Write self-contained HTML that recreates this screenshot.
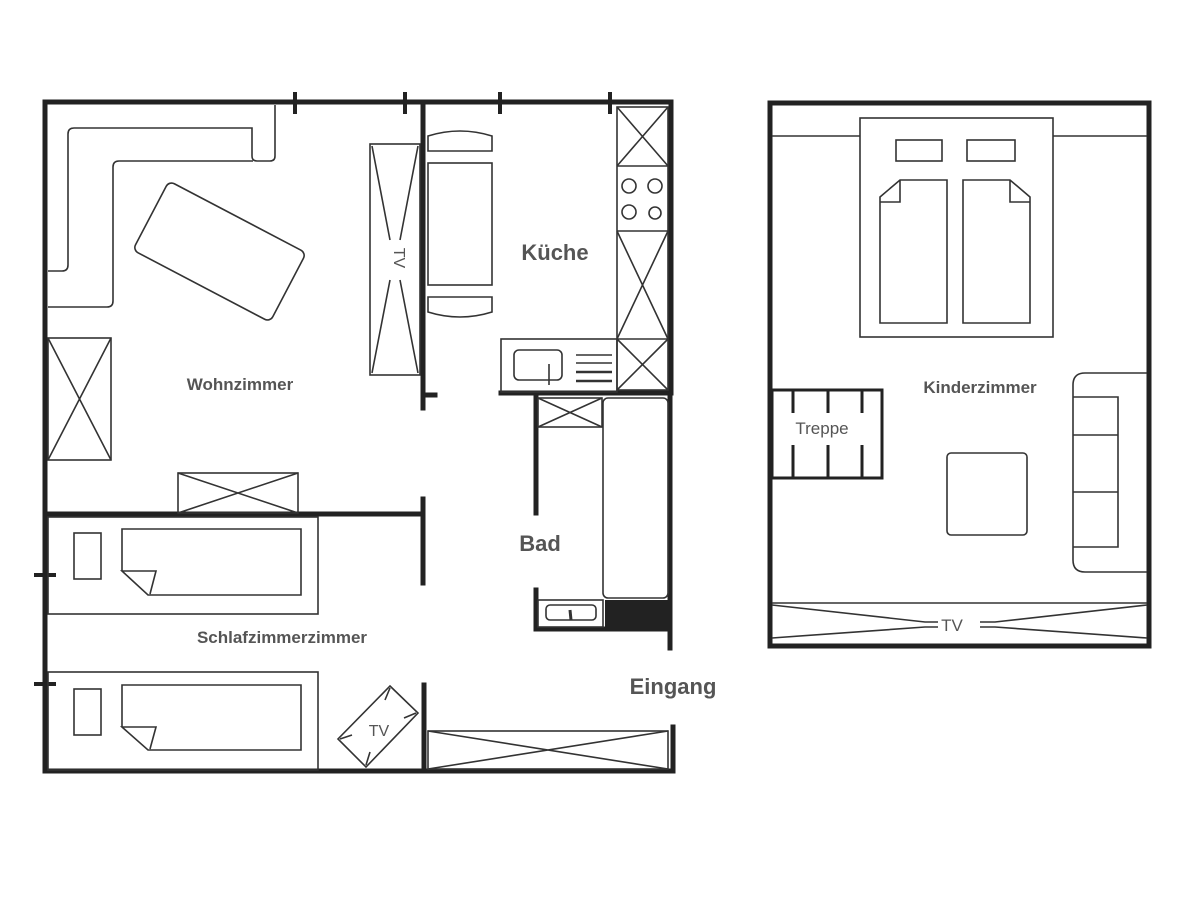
<!DOCTYPE html>
<html><head><meta charset="utf-8"><style>
html,body{margin:0;padding:0;background:#fff;}
svg{display:block;}
text{font-family:"Liberation Sans",sans-serif;fill:#555;font-weight:bold;}
</style></head><body>
<svg width="1200" height="900" viewBox="0 0 1200 900" xmlns="http://www.w3.org/2000/svg">
<g fill="none" stroke="#222" stroke-width="5" stroke-linecap="square">
<path d="M45,102 H671 V393"/>
<path d="M45,102 V771 H673 V727"/>
<path d="M670,393 V648"/>
<path d="M295,94 V112 M405,94 V112 M500,94 V112 M610,94 V112" stroke-width="4"/>
<path d="M36,575 H54 M36,684 H54" stroke-width="4"/>
<path d="M423,102 V408 M423,395 H435"/>
<path d="M501,393 H670"/>
<path d="M536,395 V513 M536,590 V629 H670"/>
<path d="M45,514 H423 M423,499 V583 M424,685 V771"/>
</g>
<rect x="605" y="600" width="65" height="29" fill="#222"/>
<g fill="none" stroke="#333" stroke-width="1.6">
<path d="M48,271 H62 Q68,271 68,265 V134 Q68,128 74,128 H252 V156 Q252,161 257,161 H270 Q275,161 275,156 V105"/>
<path d="M253,161 H119 Q113,161 113,167 V301 Q113,307 107,307 H48"/>
<rect x="142" y="212.5" width="155" height="78" rx="6" transform="rotate(27.7 219.5 251.5)"/>
<rect x="48" y="338" width="63" height="122"/><path d="M48,338 L111,460 M111,338 L48,460"/>
<rect x="178" y="473" width="120" height="40"/><path d="M178,473 L298,513 M298,473 L178,513"/>
<rect x="370" y="144" width="50" height="231"/>
<path d="M372,146 L390,240 M418,146 L400,240 M372,373 L390,280 M418,373 L400,280"/>
<rect x="428" y="163" width="64" height="122"/>
<path d="M428,151 V136 Q460,126 492,136 V151 Z"/>
<path d="M428,297 V312 Q460,322 492,312 V297 Z"/>
<rect x="617" y="107" width="51" height="283"/>
<path d="M617,166 H668 M617,231 H668 M617,339 H668"/>
<path d="M617,107 L668,166 M668,107 L617,166 M617,231 L668,339 M668,231 L617,339 M617,339 L668,390 M668,339 L617,390"/>
<circle cx="629" cy="186" r="7"/><circle cx="655" cy="186" r="7"/><circle cx="629" cy="212" r="7"/><circle cx="655" cy="213" r="6"/>
<rect x="501" y="339" width="116" height="53"/>
<rect x="514" y="350" width="48" height="30" rx="5"/><path d="M549,364 V385"/>
<path d="M576,355 H612 M576,363 H612"/><path d="M576,372 H612 M576,381 H612" stroke-width="2.5"/>
<rect x="538" y="398" width="64" height="29"/><path d="M538,398 L602,427 M602,398 L538,427"/>
<rect x="603" y="398" width="65" height="200" rx="5"/>
<rect x="538" y="600" width="65" height="27"/>
<rect x="546" y="605" width="50" height="15" rx="4"/><path d="M570,610 L571,620" stroke-width="3"/>
<rect x="428" y="731" width="240" height="38"/><path d="M428,731 L668,769 M668,731 L428,769"/>
<rect x="48" y="517" width="270" height="97"/>
<rect x="74" y="533" width="27" height="46"/>
<path d="M122,571 V529 H301 V595 H148 L122,571 H156 L150,594"/>
<rect x="48" y="672" width="270" height="98"/>
<rect x="74" y="689" width="27" height="46"/>
<path d="M122,727 V685 H301 V750 H148 L122,727 H156 L150,749"/>
<path d="M390,686 L418,713 L366,767 L338,739 Z"/>
<path d="M390,688 L385,700 M416,713 L404,718 M366,765 L370,752 M340,739 L352,735"/>
</g>
<g fill="none" stroke="#222">
<rect x="770" y="103" width="379" height="543" stroke-width="5"/>
<rect x="772" y="390" width="110" height="88" stroke-width="3"/>
<path d="M793,390 V413 M828,390 V413 M862,390 V413 M793,445 V478 M828,445 V478 M862,445 V478" stroke-width="3"/>
</g>
<g fill="none" stroke="#333" stroke-width="1.6">
<path d="M772,136 H860 M1053,136 H1147"/>
<rect x="860" y="118" width="193" height="219"/>
<rect x="896" y="140" width="46" height="21"/><rect x="967" y="140" width="48" height="21"/>
<path d="M880,197 L900,180 H947 V323 H880 Z M900,180 V202 H880"/>
<path d="M1030,197 L1010,180 H963 V323 H1030 Z M1010,180 V202 H1030"/>
<rect x="947" y="453" width="80" height="82" rx="4"/>
<path d="M1147,373 H1085 Q1073,373 1073,385 V560 Q1073,572 1085,572 H1147"/>
<path d="M1073,397 H1118 V547 H1073 M1073,435 H1118 M1073,492 H1118"/>
<path d="M772,603 H1147"/>
<path d="M772,605 L925,622 H938 M772,638 L925,627 H938 M1147,605 L995,622 H980 M1147,638 L995,627 H980"/>
</g>
<text x="555" y="260" font-size="22" text-anchor="middle">Küche</text>
<text x="240" y="390" font-size="17" text-anchor="middle">Wohnzimmer</text>
<text x="540" y="551" font-size="22" text-anchor="middle">Bad</text>
<text x="282" y="643" font-size="17" text-anchor="middle">Schlafzimmerzimmer</text>
<text x="673" y="694" font-size="22" text-anchor="middle">Eingang</text>
<text x="980" y="393" font-size="17" text-anchor="middle">Kinderzimmer</text>
<text x="822" y="434" font-size="17" text-anchor="middle" style="font-weight:normal">Treppe</text>
<text x="952" y="631" font-size="17" text-anchor="middle" style="font-weight:normal">TV</text>
<text x="379" y="736" font-size="16" text-anchor="middle" style="font-weight:normal">TV</text>
<text transform="translate(394,258) rotate(90)" font-size="16" text-anchor="middle" style="font-weight:normal">TV</text>
</svg>
</body></html>
